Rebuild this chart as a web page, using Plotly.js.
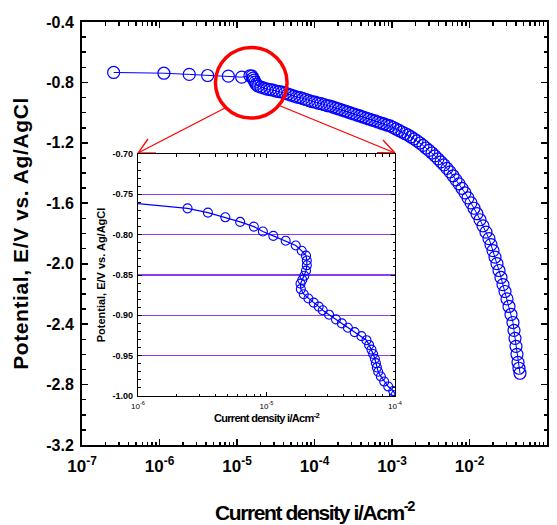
<!DOCTYPE html>
<html>
<head>
<meta charset="utf-8">
<script src="https://cdn.plot.ly/plotly-3.0.1.min.js"></script>
<style>
  html, body { margin: 0; padding: 0; background: #ffffff; }
  #wrap { position: relative; width: 557px; height: 525px; }
  #chart, #inset { position: absolute; left: 0; top: 0; width: 557px; height: 525px; }
  #chart .xtitle { letter-spacing: -1.4px; }
  #chart .ytitle { letter-spacing: 0.6px; }
  #inset .xtitle { letter-spacing: -0.7px; }
</style>
</head>
<body>
<div id="wrap">
  <div id="chart"></div>
  <div id="inset"></div>
</div>
<script>
// ---- Main polarization curve: current density (A/cm^2) and potential (V vs Ag/AgCl)
var mainCurrent = [2.56e-7, 1.14e-6, 2.42e-6, 4.18e-6, 7.73e-6, 1.15e-5, 1.47e-5,
  1.56e-5, 1.61e-5, 1.66e-5, 1.71e-5, 1.76e-5, 1.87e-5, 2.04e-5, 2.23e-5, 2.44e-5, 2.67e-5,
  2.91e-5, 3.19e-5, 3.48e-5, 3.81e-5, 4.16e-5, 4.55e-5, 4.97e-5, 5.44e-5, 5.95e-5, 6.50e-5,
  7.11e-5, 7.77e-5, 8.49e-5, 9.28e-5, 1.015e-4, 1.11e-4, 1.213e-4, 1.326e-4, 1.45e-4, 1.585e-4,
  1.733e-4, 1.894e-4, 2.07e-4, 2.264e-4, 2.475e-4, 2.705e-4, 2.958e-4, 3.233e-4, 3.535e-4, 3.864e-4,
  4.224e-4, 4.618e-4, 5.049e-4, 5.519e-4, 6.034e-4, 6.596e-4, 7.211e-4, 7.883e-4, 8.618e-4, 9.42e-4,
  1.03e-3, 1.126e-3, 1.231e-3, 1.346e-3, 1.471e-3, 1.608e-3, 1.758e-3, 1.922e-3, 2.101e-3, 2.297e-3,
  2.511e-3, 2.745e-3, 3.001e-3, 3.281e-3, 3.587e-3, 3.922e-3, 4.287e-3, 4.687e-3, 5.124e-3, 5.601e-3,
  6.124e-3, 6.695e-3, 7.319e-3, 8.0e-3, 8.747e-3, 9.562e-3, 1.045e-2, 1.143e-2, 1.249e-2, 1.366e-2,
  1.493e-2, 1.632e-2, 1.784e-2, 1.894e-2, 2.01e-2, 2.134e-2, 2.263e-2, 2.403e-2, 2.549e-2, 2.705e-2,
  2.871e-2, 3.047e-2, 3.234e-2, 3.431e-2, 3.641e-2, 3.75e-2, 3.864e-2, 3.98e-2, 4.10e-2, 4.224e-2,
  4.351e-2, 4.482e-2];
var mainPotential = [-0.734, -0.739, -0.747, -0.754, -0.758, -0.765, -0.756,
  -0.758, -0.772, -0.785, -0.798, -0.811, -0.824, -0.831, -0.838, -0.844, -0.847,
  -0.851, -0.857, -0.861, -0.864, -0.871, -0.877, -0.884, -0.891, -0.897, -0.900,
  -0.907, -0.913, -0.920, -0.927, -0.930, -0.937, -0.940, -0.946, -0.953, -0.956,
  -0.963, -0.970, -0.976, -0.983, -0.989, -0.996, -1.003, -1.009, -1.016, -1.022,
  -1.029, -1.036, -1.042, -1.049, -1.055, -1.062, -1.069, -1.075, -1.082, -1.088,
  -1.098, -1.108, -1.118, -1.128, -1.138, -1.148, -1.161, -1.174, -1.187, -1.201,
  -1.217, -1.234, -1.250, -1.267, -1.286, -1.306, -1.326, -1.346, -1.369, -1.392,
  -1.418, -1.445, -1.471, -1.501, -1.531, -1.564, -1.597, -1.633, -1.669, -1.709,
  -1.749, -1.791, -1.834, -1.874, -1.913, -1.956, -1.999, -2.045, -2.091, -2.138,
  -2.184, -2.233, -2.283, -2.336, -2.389, -2.441, -2.494, -2.547, -2.600, -2.653,
  -2.692, -2.725];

// ---- Inset (zoomed region)
var insetCurrent = [4.0e-7, 2.43e-6, 3.50e-6, 4.78e-6, 6.24e-6, 7.97e-6, 9.37e-6, 1.13e-5, 1.41e-5,
  1.69e-5, 1.88e-5, 2.03e-5, 2.06e-5, 2.06e-5, 2.03e-5, 1.97e-5, 1.90e-5, 1.84e-5, 1.85e-5,
  1.95e-5, 2.12e-5, 2.33e-5, 2.55e-5, 2.74e-5, 3.07e-5, 3.47e-5, 3.86e-5, 4.30e-5, 4.85e-5,
  5.48e-5, 6.00e-5, 6.29e-5, 6.56e-5, 6.76e-5, 6.97e-5, 7.10e-5, 7.23e-5, 7.40e-5, 7.76e-5,
  8.24e-5, 8.86e-5, 9.70e-5, 1.01e-4];
var insetPotential = [-0.7556, -0.7674, -0.7727, -0.7785, -0.7842, -0.7900, -0.7961, -0.8015, -0.8076,
  -0.8134, -0.8200, -0.8260, -0.8320, -0.8380, -0.8446, -0.8510, -0.8560, -0.8607, -0.8675,
  -0.8738, -0.8792, -0.8842, -0.8892, -0.8937, -0.8992, -0.9050, -0.9100, -0.9154, -0.9208,
  -0.9258, -0.9308, -0.9367, -0.9425, -0.9479, -0.9538, -0.9592, -0.9646, -0.9700, -0.9758,
  -0.9821, -0.9883, -0.9938, -0.9988];

// ---- Tick labels
var mainXTickVals = [1e-7, 1e-6, 1e-5, 1e-4, 1e-3, 1e-2, 1e-1];
var mainXTickText = ['10<sup>-7</sup>', '10<sup>-6</sup>', '10<sup>-5</sup>', '10<sup>-4</sup>',
  '10<sup>-3</sup>', '10<sup>-2</sup>', '10<sup>-1</sup>'];
var mainYTickVals = [-3.2, -2.8, -2.4, -2.0, -1.6, -1.2, -0.8, -0.4];
var mainYTickText = ['-3.2', '-2.8', '-2.4', '-2.0', '-1.6', '-1.2', '-0.8', '-0.4'];
var insetXTickVals = [1e-6, 1e-5, 1e-4];
var insetXTickText = ['10<sup>-6</sup>', '10<sup>-5</sup>', '10<sup>-4</sup>'];
var insetYTickVals = [-1.00, -0.95, -0.90, -0.85, -0.80, -0.75, -0.70];
var insetYTickText = ['-1.00', '-0.95', '-0.90', '-0.85', '-0.80', '-0.75', '-0.70'];

var BLUE = '#0000ff';
var RED = '#ff0000';
var FONT = 'Liberation Sans, Arial, Helvetica, sans-serif';

// inset plot-area placement inside the main plot area (paper fractions of the main plot)
var insetX0 = 0.1204, insetX1 = 0.6731, insetY0 = 0.1158, insetY1 = 0.6880;

function seg(x0, y0, x1, y1, w) {
  return {type: 'line', xref: 'paper', yref: 'paper', x0: x0, y0: y0, x1: x1, y1: y1,
          line: {color: RED, width: w}};
}

var shapes = [
  {type: 'circle', xref: 'paper', yref: 'paper', x0: 0.287, x1: 0.441, y0: 0.773, y1: 0.940,
   line: {color: RED, width: 3.5}, fillcolor: 'rgba(0,0,0,0)'},
  seg(0.3075, 0.7967, insetX0, 0.6903, 1.3),
  seg(insetX0, 0.6903, 0.1591, 0.6903, 1.3),
  seg(insetX0, 0.6903, 0.1419, 0.7234, 1.3),
  seg(0.4215, 0.8038, insetX1, 0.6903, 1.3),
  seg(insetX1, 0.6903, 0.6344, 0.6910, 1.3),
  seg(insetX1, 0.6903, 0.6473, 0.7210, 1.3)
];

var mainMargin = {l: 82, r: 10, t: 22, b: 80};
var W = 557, H = 525;
var plotW = W - mainMargin.l - mainMargin.r, plotH = H - mainMargin.t - mainMargin.b;

// ---- Main chart
var mainLayout = {
  width: W, height: H,
  margin: {l: mainMargin.l, r: mainMargin.r, t: mainMargin.t, b: mainMargin.b, pad: 0},
  paper_bgcolor: '#ffffff', plot_bgcolor: '#ffffff',
  showlegend: false,
  font: {family: FONT, color: '#000000', size: 12},
  xaxis: {
    type: 'log', range: [-7, -1],
    tickmode: 'array', tickvals: mainXTickVals, ticktext: mainXTickText,
    ticks: 'inside', ticklen: 6, tickwidth: 1.6, tickcolor: '#000',
    showline: true, linewidth: 2, linecolor: '#000', mirror: 'allticks',
    showgrid: false, zeroline: false, ticklabelstandoff: 5,
    tickfont: {family: FONT, size: 17, weight: 'bold', color: '#000'},
    minor: {ticks: 'inside', ticklen: 3.5, tickwidth: 1.5, tickcolor: '#000', dtick: 'D1', showgrid: false},
    title: {text: 'Current density i/Acm<sup>-2</sup>', standoff: 30,
            font: {family: FONT, size: 21, weight: 'bold', color: '#000'}}
  },
  yaxis: {
    range: [-3.2, -0.4],
    tickmode: 'array', tickvals: mainYTickVals, ticktext: mainYTickText,
    ticks: 'inside', ticklen: 6, tickwidth: 1.6, tickcolor: '#000',
    showline: true, linewidth: 2, linecolor: '#000', mirror: 'allticks',
    showgrid: false, zeroline: false, ticklabelstandoff: 3,
    tickfont: {family: FONT, size: 16, weight: 'bold', color: '#000'},
    minor: {ticks: 'inside', ticklen: 3.5, tickwidth: 1.5, tickcolor: '#000', tick0: -0.4, dtick: 0.1, showgrid: false},
    title: {text: 'Potential, E/V vs. Ag/AgCl', standoff: 12,
            font: {family: FONT, size: 21, weight: 'bold', color: '#000'}}
  },
  shapes: shapes
};

Plotly.newPlot('chart', [{
  x: mainCurrent, y: mainPotential,
  type: 'scatter', mode: 'lines+markers',
  line: {color: BLUE, width: 1},
  marker: {symbol: 'circle-open', size: 12, color: BLUE, line: {color: BLUE, width: 1.2}},
  hoverinfo: 'skip'
}], mainLayout, {displayModeBar: false, staticPlot: true});

// ---- Inset chart, overlaid at the same page position (its own single subplot)
var insetMargin = {
  l: mainMargin.l + insetX0 * plotW,
  r: W - (mainMargin.l + insetX1 * plotW),
  t: mainMargin.t + (1 - insetY1) * plotH,
  b: H - (mainMargin.t + (1 - insetY0) * plotH),
  pad: 0
};

var insetLayout = {
  width: W, height: H,
  margin: insetMargin,
  paper_bgcolor: 'rgba(0,0,0,0)', plot_bgcolor: '#ffffff',
  showlegend: false,
  font: {family: FONT, color: '#000000', size: 10},
  xaxis: {
    type: 'log', range: [-6, -4],
    tickmode: 'array', tickvals: insetXTickVals, ticktext: insetXTickText,
    ticks: 'inside', ticklen: 4, tickwidth: 1, tickcolor: '#000',
    showline: true, linewidth: 1.2, linecolor: '#000', mirror: 'allticks',
    showgrid: false, zeroline: false, ticklabelstandoff: 2,
    tickfont: {family: FONT, size: 8, color: '#000'},
    minor: {ticks: 'inside', ticklen: 2.5, tickwidth: 1, tickcolor: '#000', dtick: 'D1', showgrid: false},
    title: {text: 'Current density i/Acm<sup>-2</sup>', standoff: 4,
            font: {family: FONT, size: 11, weight: 'bold', color: '#000'}}
  },
  yaxis: {
    range: [-1.0, -0.70],
    tickmode: 'array', tickvals: insetYTickVals, ticktext: insetYTickText,
    ticks: 'inside', ticklen: 4, tickwidth: 1, tickcolor: '#000',
    showline: true, linewidth: 1.2, linecolor: '#000', mirror: 'allticks',
    showgrid: true, gridcolor: '#8a3cf0', gridwidth: 1.5, zeroline: false, ticklabelstandoff: 2,
    tickfont: {family: FONT, size: 9, weight: 'bold', color: '#000'},
    minor: {ticks: 'inside', ticklen: 2.5, tickwidth: 1, tickcolor: '#000', tick0: -0.70, dtick: 0.01, showgrid: false},
    title: {text: 'Potential, E/V vs. Ag/AgCl', standoff: 4,
            font: {family: FONT, size: 11, weight: 'bold', color: '#000'}}
  }
};

Plotly.newPlot('inset', [{
  x: insetCurrent, y: insetPotential,
  type: 'scatter', mode: 'lines+markers',
  line: {color: BLUE, width: 1.2},
  marker: {symbol: 'circle-open', size: 9, color: BLUE, line: {color: BLUE, width: 1.1}},
  hoverinfo: 'skip'
}], insetLayout, {displayModeBar: false, staticPlot: true});
</script>
</body>
</html>
